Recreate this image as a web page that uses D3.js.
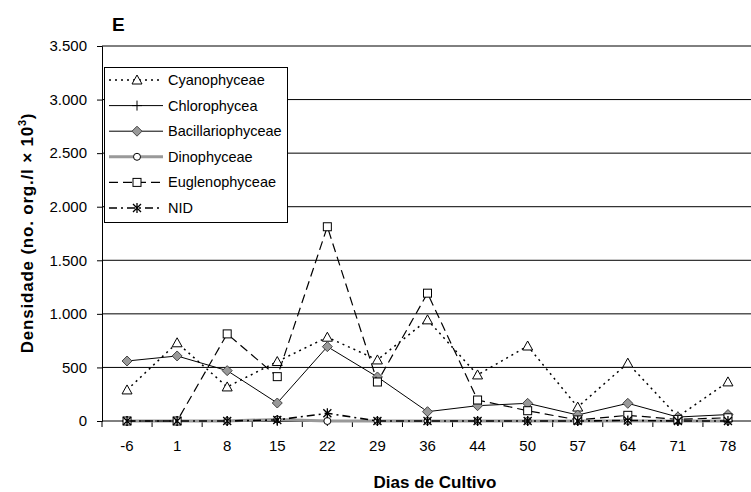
<!DOCTYPE html>
<html>
<head>
<meta charset="utf-8">
<script src="https://cdn.jsdelivr.net/npm/d3@7"></script>
<style>
  body { margin: 0; background: #fff; }
  #chart { width: 751px; height: 492px; }
  text { font-family: Arial, "Liberation Sans", sans-serif; }
</style>
</head>
<body>
<div id="chart"></div>
<script>
// data
const days = ["-6","1","8","15","22","29","36","44","50","57","64","71","78"];
const yTicks = [0, 500, 1000, 1500, 2000, 2500, 3000, 3500];
const cyano  = [290, 730, 318, 555, 782, 570, 944, 430, 700, 130, 540, 40, 365];
const chloro = [0, 0, 0, 0, 0, 0, 0, 0, 0, 0, 0, 0, 0];
const bacil  = [560, 607, 470, 168, 694, 411, 87, 143, 165, 56, 165, 37, 60];
const dino   = [0, 0, 0, 15, 0, 0, 0, 0, 0, 0, 0, 0, 0];
const eugl   = [0, 0, 813, 414, 1813, 364, 1193, 196, 96, 10, 53, 15, 30];
const nid    = [0, 0, 0, 10, 72, 0, 0, 0, 0, 0, 5, 0, 0];
const seriesNames = ["Cyanophyceae","Chlorophycea","Bacillariophyceae","Dinophyceae","Euglenophyceae","NID"];

const width = 751, height = 492;
const margin = {top: 46, left: 102, right: -2, bottom: 71};

const svg = d3.select("#chart").append("svg")
    .attr("width", width).attr("height", height);

//scales
const xScale = d3.scaleBand()
    .domain(days)
    .range([margin.left, width - margin.right]);
const yScale = d3.scaleLinear()
    .domain([0, 3500])
    .range([height - margin.bottom, margin.top]);
const cx = d => xScale(d) + xScale.bandwidth() / 2;

//gridlines
svg.append("g").selectAll("line")
    .data(yTicks.slice(1))
    .enter().append("line")
    .attr("x1", margin.left).attr("x2", width)
    .attr("y1", d => yScale(d)).attr("y2", d => yScale(d))
    .attr("stroke", "#000").attr("stroke-width", 1);

//axes
const yAxis = svg.append("g")
    .attr("transform", `translate(${margin.left},0)`)
    .call(d3.axisLeft(yScale).tickValues(yTicks).tickSize(5).tickPadding(10)
        .tickFormat(d => d3.format(",")(d).replace(",", ".")));
yAxis.selectAll("text").attr("font-size", 15).attr("fill", "#000")
    .style("font-family", "Arial, 'Liberation Sans', sans-serif");
yAxis.select(".domain").attr("stroke", "#000");

const xAxisG = svg.append("g")
    .attr("transform", `translate(0,${height - margin.bottom})`);
xAxisG.append("line")
    .attr("x1", margin.left).attr("x2", width)
    .attr("stroke", "#000");
xAxisG.selectAll(".tk")
    .data(days)
    .enter().append("line")
    .attr("x1", d => xScale(d)).attr("x2", d => xScale(d))
    .attr("y1", 0).attr("y2", 6)
    .attr("stroke", "#000");
xAxisG.selectAll(".lb")
    .data(days)
    .enter().append("text")
    .attr("x", d => cx(d))
    .attr("y", 30)
    .attr("text-anchor", "middle")
    .attr("font-size", 15)
    .text(d => d);

//series styles
const styles = [
    {values: cyano,  color: "#000", width: 1.5, dash: "2,4",      marker: "triangle"},
    {values: chloro, color: "#000", width: 1,   dash: null,       marker: "plus"},
    {values: bacil,  color: "#000", width: 1,   dash: null,       marker: "diamond"},
    {values: dino,   color: "#999", width: 3,   dash: null,       marker: "circle"},
    {values: eugl,   color: "#000", width: 1.2, dash: "9,5",      marker: "square"},
    {values: nid,    color: "#000", width: 1.6, dash: "8,4,2,4",  marker: "star"}
];

function drawMarker(g, type, x, y) {
    if (type === "triangle") {
        g.append("path").attr("d", `M${x},${y-5}L${x+5},${y+4}L${x-5},${y+4}Z`)
            .attr("fill", "#fff").attr("stroke", "#000").attr("stroke-width", 1);
    } else if (type === "plus") {
        g.append("path").attr("d", `M${x-5},${y}H${x+5}M${x},${y-5}V${y+5}`)
            .attr("stroke", "#000").attr("stroke-width", 1);
    } else if (type === "diamond") {
        g.append("path").attr("d", `M${x},${y-5}L${x+5},${y}L${x},${y+5}L${x-5},${y}Z`)
            .attr("fill", "#999").attr("stroke", "#444").attr("stroke-width", 1);
    } else if (type === "circle") {
        g.append("circle").attr("cx", x).attr("cy", y).attr("r", 3.5)
            .attr("fill", "#fff").attr("stroke", "#000").attr("stroke-width", 1);
    } else if (type === "square") {
        g.append("rect").attr("x", x - 4).attr("y", y - 4).attr("width", 8).attr("height", 8)
            .attr("fill", "#fff").attr("stroke", "#000").attr("stroke-width", 1);
    } else if (type === "star") {
        g.append("path").attr("d", `M${x-4},${y-4}L${x+4},${y+4}M${x-4},${y+4}L${x+4},${y-4}M${x},${y-5}V${y+5}`)
            .attr("stroke", "#000").attr("stroke-width", 1.3);
    }
}

const line = d3.line()
    .x((d, i) => cx(days[i]))
    .y(d => yScale(d));

styles.forEach(function(s) {
    const g = svg.append("g");
    g.append("path")
        .attr("d", line(s.values))
        .attr("fill", "none")
        .attr("stroke", s.color)
        .attr("stroke-width", s.width)
        .attr("stroke-dasharray", s.dash);
    s.values.forEach((v, i) => drawMarker(g, s.marker, cx(days[i]), yScale(v)));
});

//legend
const legend = svg.append("g");
legend.append("rect")
    .attr("x", 104.5).attr("y", 67.5).attr("width", 183).attr("height", 155)
    .attr("fill", "#fff").attr("stroke", "#000");
styles.forEach(function(s, i) {
    const y = 80 + i * 25.6;
    legend.append("line")
        .attr("x1", 109).attr("x2", 163).attr("y1", y).attr("y2", y)
        .attr("stroke", s.color).attr("stroke-width", s.width)
        .attr("stroke-dasharray", s.dash);
    drawMarker(legend, s.marker, 137, y);
    legend.append("text")
        .attr("x", 168).attr("y", y + 5)
        .attr("font-size", 14.5)
        .text(seriesNames[i]);
});

//titles
svg.append("text")
    .attr("x", 112).attr("y", 31)
    .attr("font-size", 19).attr("font-weight", "bold")
    .text("E");

svg.append("text")
    .attr("x", 435).attr("y", 488)
    .attr("text-anchor", "middle")
    .attr("font-size", 17).attr("font-weight", "bold")
    .text("Dias de Cultivo");

const yTitle = svg.append("text")
    .attr("transform", "rotate(-90)")
    .attr("x", -233)
    .attr("y", 33)
    .attr("text-anchor", "middle")
    .attr("font-size", 17).attr("font-weight", "bold")
    .attr("letter-spacing", 0.8);
yTitle.append("tspan").text("Densidade (no. org./l × 10");
yTitle.append("tspan").attr("dy", -7).attr("font-size", 11).text("3");
yTitle.append("tspan").attr("dy", 7).text(")");
</script>
</body>
</html>
